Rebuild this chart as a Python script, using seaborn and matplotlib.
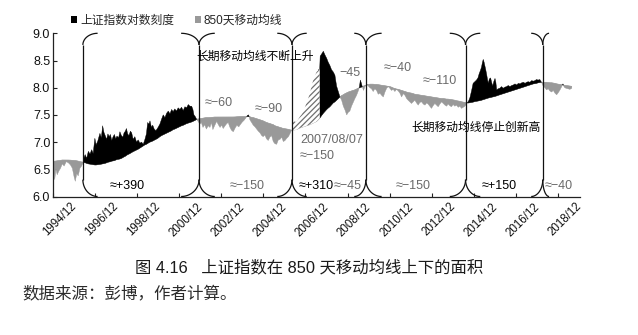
import numpy as np
import pandas as pd
import matplotlib
matplotlib.use("Agg")
import matplotlib.pyplot as plt
import matplotlib.transforms as mtrans
from matplotlib.patches import Patch
import seaborn as sns

sns.set_theme(style="ticks")
plt.rcParams["font.family"] = ["Liberation Sans", "Noto Sans CJK SC", "DejaVu Sans"]
plt.rcParams["hatch.linewidth"] = 0.9
plt.rcParams["axes.unicode_minus"] = True

# ---------------- data (decimal year, log index, log 850-day MA) ----------------
dates = [
    1994.92, 1995.00, 1995.06, 1995.12, 1995.20, 1995.28, 1995.36, 1995.45, 1995.55, 1995.65,
    1995.75, 1995.84, 1995.93, 1995.98, 1996.05, 1996.12, 1996.20, 1996.28, 1996.36,
    1996.40, 1996.45, 1996.52, 1996.60, 1996.68, 1996.76, 1996.83, 1996.91, 1996.97, 1997.05,
    1997.15, 1997.22, 1997.28, 1997.34, 1997.40, 1997.47, 1997.53, 1997.59, 1997.65, 1997.71,
    1997.78, 1997.84, 1997.90, 1997.96, 1998.04, 1998.10, 1998.17, 1998.24, 1998.30, 1998.36,
    1998.41, 1998.47, 1998.53, 1998.60, 1998.66, 1998.73, 1998.81, 1998.89, 1998.97, 1999.05,
    1999.13, 1999.21, 1999.29, 1999.36, 1999.42, 1999.48, 1999.53, 1999.60, 1999.66, 1999.73,
    1999.81, 1999.90, 2000.00, 2000.08, 2000.16, 2000.24, 2000.32, 2000.40, 2000.48, 2000.56,
    2000.63, 2000.71, 2000.79, 2000.87, 2000.95, 2001.03, 2001.11, 2001.19, 2001.27, 2001.35,
    2001.43, 2001.51, 2001.57, 2001.62, 2001.68, 2001.75,
    2001.82, 2001.90, 2001.97, 2002.05, 2002.13, 2002.21, 2002.30, 2002.38, 2002.45, 2002.52,
    2002.60, 2002.70, 2002.78, 2002.86, 2002.94, 2003.01, 2003.10, 2003.18, 2003.25, 2003.32,
    2003.40, 2003.49, 2003.58, 2003.66, 2003.75, 2003.84, 2003.92, 2004.00, 2004.08, 2004.16,
    2004.22, 2004.28, 2004.36, 2004.44, 2004.52, 2004.60, 2004.68, 2004.76, 2004.84, 2004.91,
    2004.99, 2005.07, 2005.15, 2005.23, 2005.31, 2005.39, 2005.47, 2005.55, 2005.63, 2005.71,
    2005.79, 2005.87, 2005.95, 2006.03, 2006.11, 2006.19, 2006.26,
    2006.30, 2006.34, 2006.42, 2006.50, 2006.58, 2006.66, 2006.74, 2006.81, 2006.89, 2006.97,
    2007.05, 2007.13, 2007.21, 2007.29, 2007.37, 2007.45, 2007.53, 2007.60,
    2007.62, 2007.69, 2007.77, 2007.85, 2007.93, 2008.00, 2008.08, 2008.16, 2008.24, 2008.32,
    2008.40, 2008.48, 2008.56,
    2008.64, 2008.72, 2008.80, 2008.88, 2008.96, 2009.03, 2009.11, 2009.19, 2009.27, 2009.35,
    2009.42, 2009.48, 2009.53, 2009.58, 2009.62, 2009.68, 2009.75, 2009.83,
    2009.91, 2009.98, 2010.06, 2010.14, 2010.22, 2010.30, 2010.38, 2010.46, 2010.54, 2010.62,
    2010.70, 2010.78, 2010.86, 2010.93, 2011.01, 2011.09, 2011.17, 2011.25, 2011.33, 2011.41,
    2011.49, 2011.57, 2011.65, 2011.73, 2011.80, 2011.88, 2011.96, 2012.04, 2012.12, 2012.20,
    2012.28, 2012.36, 2012.44, 2012.52, 2012.60, 2012.68, 2012.75, 2012.83, 2012.91, 2012.99,
    2013.07, 2013.15, 2013.23, 2013.31, 2013.39, 2013.47, 2013.55, 2013.63, 2013.70, 2013.78,
    2013.86, 2013.94, 2014.02, 2014.10, 2014.18, 2014.26, 2014.34, 2014.42, 2014.50, 2014.56,
    2014.61,
    2014.68, 2014.74, 2014.82, 2014.89, 2014.97, 2015.05, 2015.12, 2015.18, 2015.24, 2015.29,
    2015.33, 2015.37, 2015.41, 2015.45, 2015.49, 2015.53, 2015.57, 2015.61, 2015.66, 2015.72,
    2015.77, 2015.82, 2015.88, 2015.93, 2015.97, 2016.01, 2016.08, 2016.16, 2016.24, 2016.32,
    2016.40, 2016.48, 2016.56, 2016.64, 2016.72, 2016.80, 2016.88, 2016.96, 2017.04, 2017.12,
    2017.20, 2017.28, 2017.36, 2017.43, 2017.51, 2017.59, 2017.67, 2017.75, 2017.83, 2017.90,
    2017.98, 2018.06, 2018.14,
    2018.22, 2018.30, 2018.38, 2018.46, 2018.54, 2018.62, 2018.70, 2018.78, 2018.86, 2018.94,
    2019.02, 2019.10, 2019.16, 2019.22, 2019.30, 2019.40, 2019.49, 2019.58,
]

shcomp_log = [
    6.58, 6.31, 6.50, 6.40, 6.47, 6.52, 6.60, 6.56, 6.64, 6.62,
    6.58, 6.52, 6.35, 6.28, 6.42, 6.38, 6.52, 6.56, 6.63,
    6.72, 6.77, 6.70, 6.83, 6.78, 6.86, 6.79, 7.07, 6.95, 7.02,
    7.16, 7.08, 7.30, 7.18, 7.12, 7.05, 7.15, 7.10, 7.14, 7.03,
    7.10, 7.14, 7.06, 7.11, 7.08, 7.19, 7.12, 7.09, 7.17, 7.20,
    7.25, 7.15, 7.12, 7.20, 7.17, 7.05, 7.10, 7.00, 7.04, 6.98,
    7.00, 6.96, 7.05, 7.15, 7.36, 7.33, 7.39, 7.27, 7.31, 7.24,
    7.21, 7.26, 7.33, 7.42, 7.50, 7.45, 7.53, 7.57, 7.52, 7.60,
    7.56, 7.61, 7.57, 7.63, 7.60, 7.64, 7.58, 7.65, 7.63, 7.69,
    7.66, 7.66, 7.60, 7.50, 7.47, 7.42,
    7.38, 7.33, 7.36, 7.27, 7.32, 7.24, 7.30, 7.27, 7.36, 7.23,
    7.30, 7.38, 7.32, 7.27, 7.31, 7.25, 7.30, 7.34, 7.36, 7.28,
    7.22, 7.19, 7.26, 7.31, 7.28, 7.33, 7.37, 7.40, 7.44, 7.49,
    7.50, 7.41, 7.36, 7.31, 7.28, 7.24, 7.20, 7.17, 7.12, 7.10,
    7.13, 7.06, 7.03, 7.09, 7.12, 7.01, 6.97, 6.96, 7.04, 7.05,
    7.09, 7.01, 7.03, 7.07, 7.10, 7.16, 7.22,
    7.32, 7.41, 7.37, 7.38, 7.42, 7.47, 7.51, 7.56, 7.63, 7.72,
    7.80, 7.90, 8.02, 8.14, 8.22, 8.29, 8.32, 8.36,
    8.58, 8.62, 8.67, 8.60, 8.54, 8.47, 8.41, 8.33, 8.29, 8.23,
    8.03, 7.93, 7.83,
    7.77, 7.66, 7.59, 7.50, 7.55, 7.57, 7.66, 7.73, 7.80, 7.86,
    7.93, 8.00, 8.14, 8.08, 8.02, 7.95, 8.02, 8.06,
    8.03, 8.00, 7.98, 7.93, 7.98, 7.95, 7.88, 7.90, 7.86, 7.83,
    7.92, 7.99, 8.02, 7.99, 7.95, 7.97, 7.93, 7.97, 7.94, 7.90,
    7.83, 7.89, 7.86, 7.80, 7.77, 7.74, 7.71, 7.74, 7.77, 7.72,
    7.68, 7.73, 7.74, 7.70, 7.68, 7.72, 7.70, 7.66, 7.62, 7.67,
    7.71, 7.68, 7.65, 7.70, 7.74, 7.71, 7.68, 7.66, 7.70, 7.67,
    7.65, 7.69, 7.66, 7.68, 7.64, 7.66, 7.62, 7.64, 7.66, 7.69,
    7.72,
    7.76, 7.82, 7.95, 8.08, 8.11, 8.14, 8.18, 8.26, 8.32, 8.38,
    8.46, 8.52, 8.47, 8.40, 8.33, 8.25, 8.16, 8.08, 8.16, 8.18,
    8.10, 8.03, 8.12, 8.17, 8.10, 7.96, 7.98, 7.99, 8.02, 7.99,
    8.01, 8.02, 8.04, 8.02, 8.04, 8.05, 8.07, 8.05, 8.08, 8.07,
    8.09, 8.10, 8.08, 8.10, 8.11, 8.10, 8.13, 8.12, 8.13, 8.15,
    8.14, 8.15, 8.10,
    8.03, 8.00, 7.96, 7.98, 7.94, 7.92, 7.95, 7.90, 7.87, 7.91,
    7.96, 8.02, 8.07, 8.01, 7.99, 7.98, 7.97, 7.99,
]

ma850_log = [
    6.645, 6.650, 6.652, 6.655, 6.660, 6.665, 6.670, 6.670, 6.670, 6.670,
    6.668, 6.665, 6.662, 6.660, 6.655, 6.650, 6.640, 6.635, 6.630,
    6.625, 6.620, 6.610, 6.600, 6.595, 6.590, 6.585, 6.580, 6.580, 6.585,
    6.590, 6.595, 6.600, 6.605, 6.610, 6.620, 6.630, 6.635, 6.640, 6.650,
    6.655, 6.660, 6.670, 6.680, 6.685, 6.690, 6.700, 6.715, 6.730, 6.740,
    6.755, 6.770, 6.780, 6.795, 6.810, 6.825, 6.840, 6.855, 6.870, 6.890,
    6.910, 6.930, 6.950, 6.960, 6.975, 6.990, 7.000, 7.010, 7.020, 7.035,
    7.050, 7.070, 7.100, 7.120, 7.135, 7.150, 7.165, 7.180, 7.195, 7.210,
    7.230, 7.240, 7.255, 7.270, 7.285, 7.300, 7.310, 7.325, 7.340, 7.350,
    7.360, 7.370, 7.380, 7.390, 7.400, 7.420,
    7.425, 7.430, 7.435, 7.440, 7.445, 7.450, 7.450, 7.452, 7.455, 7.457,
    7.460, 7.460, 7.460, 7.460, 7.460, 7.460, 7.460, 7.460, 7.460, 7.460,
    7.460, 7.460, 7.462, 7.465, 7.467, 7.470, 7.470, 7.470, 7.470, 7.470,
    7.468, 7.465, 7.455, 7.450, 7.440, 7.430, 7.420, 7.410, 7.400, 7.390,
    7.375, 7.360, 7.350, 7.340, 7.330, 7.320, 7.300, 7.290, 7.280, 7.270,
    7.260, 7.250, 7.245, 7.240, 7.235, 7.225, 7.220,
    7.220, 7.220, 7.225, 7.230, 7.245, 7.260, 7.270, 7.280, 7.290, 7.300,
    7.310, 7.320, 7.335, 7.350, 7.365, 7.380, 7.410, 7.440,
    7.450, 7.490, 7.530, 7.565, 7.600, 7.625, 7.650, 7.685, 7.720, 7.740,
    7.770, 7.800, 7.830,
    7.855, 7.870, 7.890, 7.905, 7.920, 7.930, 7.940, 7.950, 7.960, 7.975,
    7.990, 8.000, 8.005, 8.010, 8.020, 8.030, 8.040, 8.050,
    8.060, 8.065, 8.065, 8.065, 8.060, 8.060, 8.055, 8.050, 8.045, 8.040,
    8.035, 8.030, 8.025, 8.020, 8.010, 7.995, 7.985, 7.975, 7.970, 7.960,
    7.950, 7.940, 7.930, 7.920, 7.910, 7.905, 7.900, 7.890, 7.880, 7.875,
    7.870, 7.865, 7.860, 7.855, 7.850, 7.845, 7.840, 7.835, 7.830, 7.825,
    7.820, 7.815, 7.810, 7.805, 7.800, 7.800, 7.795, 7.790, 7.790, 7.785,
    7.780, 7.775, 7.770, 7.760, 7.755, 7.750, 7.740, 7.735, 7.730, 7.725,
    7.720,
    7.720, 7.725, 7.730, 7.735, 7.745, 7.750, 7.755, 7.760, 7.765, 7.770,
    7.775, 7.780, 7.785, 7.790, 7.795, 7.800, 7.805, 7.810, 7.815, 7.820,
    7.825, 7.830, 7.835, 7.840, 7.845, 7.850, 7.860, 7.870, 7.880, 7.890,
    7.900, 7.910, 7.920, 7.930, 7.940, 7.950, 7.960, 7.970, 7.980, 7.990,
    8.000, 8.010, 8.020, 8.030, 8.040, 8.050, 8.060, 8.070, 8.075, 8.080,
    8.090, 8.095, 8.100,
    8.100, 8.100, 8.100, 8.095, 8.090, 8.090, 8.085, 8.080, 8.070, 8.065,
    8.060, 8.055, 8.050, 8.045, 8.040, 8.035, 8.030, 8.025,
]

# hatched stretch: from the crossing to 2007/08/07
hatch_start, hatch_end = 2006.26, 2007.60

xtick_years = [1994.92, 1996.92, 1998.92, 2000.92, 2002.92, 2004.92, 2006.92,
               2008.92, 2010.92, 2012.92, 2014.92, 2016.92, 2018.92]
xtick_labels = ["1994/12", "1996/12", "1998/12", "2000/12", "2002/12", "2004/12", "2006/12",
                "2008/12", "2010/12", "2012/12", "2014/12", "2016/12", "2018/12"]
ytick_vals = [6.0, 6.5, 7.0, 7.5, 8.0, 8.5, 9.0]

# bracket boundaries (year) with left / right arc widths (years)
bracket_x = [1996.34, 2001.86, 2006.28, 2009.79, 2014.53, 2018.20]
bracket_wl = [0.0, 0.85, 0.70, 0.55, 0.75, 0.55]
bracket_wr = [0.70, 0.75, 0.70, 0.75, 0.70, 0.30]

bottom_labels = ["≈+390", "≈−150", "≈+310", "≈−45", "≈−150", "≈+150", "≈−40"]
bottom_x = [1998.46, 2004.14, 2007.44, 2008.91, 2012.05, 2016.14, 2018.97]
bottom_dark = [True, False, True, False, False, True, False]

top_labels = ["≈−60", "≈−90", "−45", "≈−40", "≈−110"]
top_x = [2002.78, 2005.16, 2009.03, 2011.29, 2013.31]
top_y = [7.72, 7.60, 8.27, 8.36, 8.13]

df = pd.DataFrame({"date": dates, "index": shcomp_log, "ma": ma850_log})

# ---------------- figure ----------------
W, H = 638, 335
fig = plt.figure(figsize=(W / 100, H / 100), dpi=100)
ax = fig.add_axes([53 / W, 1 - 196.5 / H, (580 - 53) / W, (196.5 - 33.3) / H])

t = df["date"].to_numpy()
iv = df["index"].to_numpy()
mv = df["ma"].to_numpy()

GRAY = "#999999"
inside_hatch = (t > hatch_start) & (t < hatch_end)
ax.fill_between(t, iv, mv, where=(iv <= mv), interpolate=True,
                facecolor=GRAY, edgecolor=GRAY, lw=0.3, zorder=2)
ax.fill_between(t, iv, mv, where=(iv >= mv) & ~inside_hatch, interpolate=True,
                facecolor="black", edgecolor="black", lw=0.3, zorder=2)
ax.fill_between(t, iv, mv, where=(t >= hatch_start) & (t <= hatch_end), interpolate=True,
                facecolor="white", edgecolor="#707070", hatch="//////", lw=0.0, zorder=2)
sns.lineplot(data=df, x="date", y="ma", ax=ax, color=GRAY, lw=0.4, zorder=1, legend=False)

ax.set_xlim(1994.92, 2019.97)
ax.set_ylim(6.0, 9.0)
ax.set_xlabel("")
ax.set_ylabel("")
ax.set_yticks(ytick_vals)
ax.set_yticklabels([f"{v:.1f}" for v in ytick_vals])
ax.set_xticks(xtick_years)
ax.set_xticklabels(xtick_labels, rotation=45, ha="center")
ax.tick_params(axis="both", direction="in", length=3, width=0.8, color="#222222",
               labelcolor="#111111")
ax.tick_params(axis="y", labelsize=9, pad=2)
ax.tick_params(axis="x", labelsize=8.3, pad=3)
offset = mtrans.ScaledTranslation(7 / 100, 0, fig.dpi_scale_trans)
for lab in ax.get_xticklabels():
    lab.set_transform(lab.get_transform() + offset)
sns.despine(ax=ax)
for s in ("left", "bottom"):
    ax.spines[s].set_linewidth(0.9)
    ax.spines[s].set_color("#222222")

# ---------------- brackets ----------------
ytop, ycusp_t, ybot, ycusp_b = 9.0, 8.786, 6.0, 6.31
th = np.linspace(0, np.pi / 2, 30)
for xb, wl, wr in zip(bracket_x, bracket_wl, bracket_wr):
    kw = dict(color="#111111", lw=0.9, clip_on=False, zorder=4, solid_capstyle="butt")
    ax.plot([xb, xb], [ycusp_t, ycusp_b], **kw)
    for w, sgn in ((wl, -1), (wr, 1)):
        if w <= 0:
            continue
        ax.plot(xb + sgn * w * (1 - np.cos(th)), ycusp_t + (ytop - ycusp_t) * np.sin(th), **kw)
        ax.plot(xb + sgn * w * (1 - np.cos(th)), ycusp_b - (ycusp_b - ybot) * np.sin(th), **kw)

# ---------------- annotations ----------------
DG = "#6a6a6a"
for lab, x, dark in zip(bottom_labels, bottom_x, bottom_dark):
    ax.text(x, 6.20, lab, ha="center", va="center", fontsize=9,
            color="black" if dark else DG, zorder=5)
for lab, x, y in zip(top_labels, top_x, top_y):
    ax.text(x, y, lab, ha="center", va="center", fontsize=9, color=DG, zorder=5)
ax.text(2006.66, 7.03, "2007/08/07", ha="left", va="center", fontsize=9, color=DG, zorder=5)
ax.text(2006.66, 6.75, "≈−150", ha="left", va="center", fontsize=9, color=DG, zorder=5)
ax.text(2004.52, 8.57, "长期移动均线不断上升", ha="center", va="center", fontsize=8.5,
        color="black", zorder=5)
ax.text(2015.02, 7.27, "长期移动均线停止创新高", ha="center", va="center", fontsize=8.5,
        color="black", zorder=5)

# ---------------- legend ----------------
handles = [Patch(facecolor="black", edgecolor="none"), Patch(facecolor=GRAY, edgecolor="none")]
fig.legend(handles, ["上证指数对数刻度", "850天移动均线"], loc="center left",
           bbox_to_anchor=(71 / W, 1 - 21 / H), ncol=2, frameon=False, fontsize=8.5,
           handlelength=0.55, handleheight=0.55, handletextpad=0.25, columnspacing=1.7,
           borderpad=0, borderaxespad=0)

# ---------------- caption and source ----------------
fig.text(309 / W, 1 - 267 / H, "图 4.16   上证指数在 850 天移动均线上下的面积",
         ha="center", va="center", fontsize=11.8, color="#1a1a1a")
fig.text(22 / W, 1 - 293 / H, "数据来源：彭博，作者计算。", ha="left", va="center",
         fontsize=11.9, color="#2a2a2a")

fig.savefig("out.png", dpi=100, facecolor="white")
